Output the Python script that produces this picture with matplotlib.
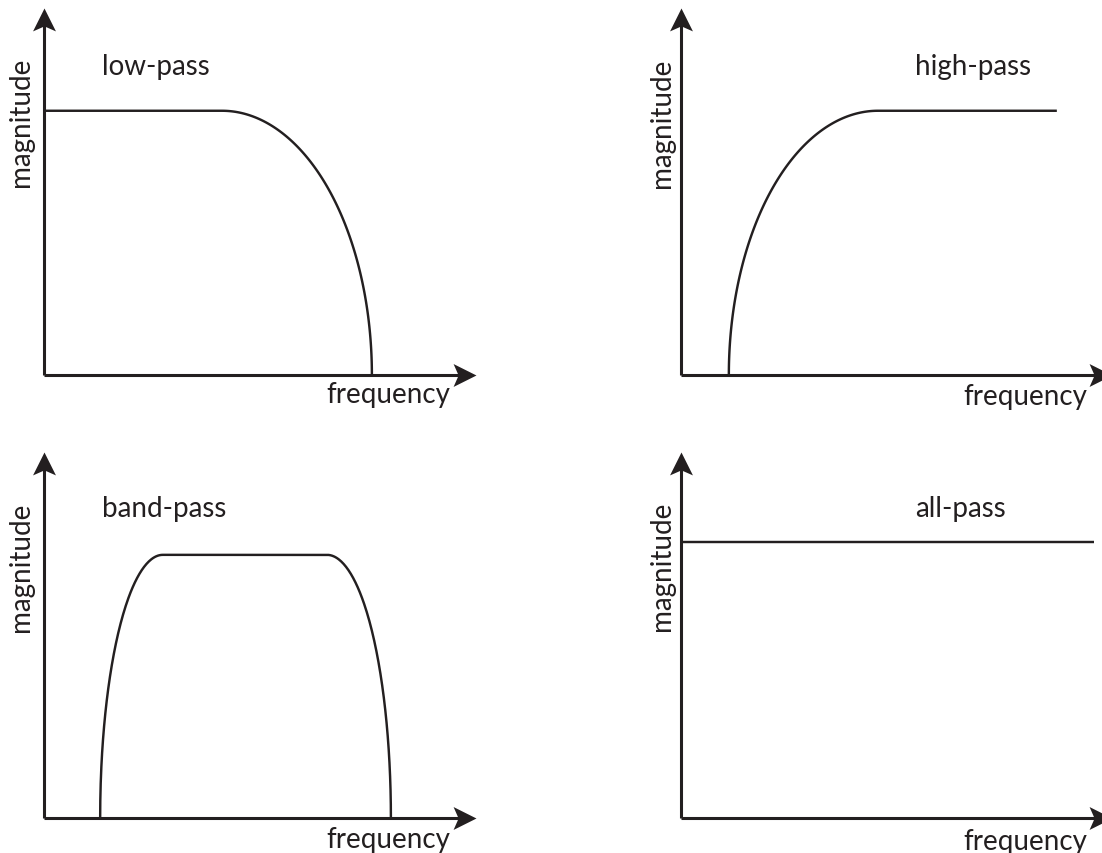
import numpy as np
import matplotlib
matplotlib.use("Agg")
import matplotlib.pyplot as plt
from matplotlib.path import Path

# ---------------- data (frequency / magnitude in arbitrary units, 0..10) -------------
titles = ["low-pass", "high-pass", "band-pass", "all-pass"]
x_label = "frequency"
y_label = "magnitude"

# break points: (frequency, magnitude); between points of different magnitude the
# response rolls off along a quarter-ellipse, equal magnitudes are joined straight
lowpass_freq = [0.0, 4.12, 7.59]
lowpass_mag = [7.2, 7.2, 0.0]

highpass_freq = [1.11, 4.57, 8.72]
highpass_mag = [0.0, 7.2, 7.2]

bandpass_freq = [1.30, 2.75, 6.55, 8.03]
bandpass_mag = [0.0, 7.19, 7.19, 0.0]

allpass_freq = [0.0, 9.58]
allpass_mag = [7.54, 7.54]

series = [(lowpass_freq, lowpass_mag), (highpass_freq, highpass_mag),
          (bandpass_freq, bandpass_mag), (allpass_freq, allpass_mag)]

# ---------------- style / layout ----------------
W, H = 1102, 854
INK = "#231f20"
FONT = "Lato"
FS = 20

fig = plt.figure(figsize=(W / 100, H / 100), dpi=100)
fig.patch.set_facecolor("white")

# panel geometry in pixels: origin x, origin y, x-arrow tip, y-arrow tip
panels = [(44, 376, 476, 9), (681, 376, 1112, 9),
          (44, 819, 476, 453), (681, 819, 1112, 453)]
title_pos = [(102, 75), (915, 75), (102, 517), (915, 517)]
xlab_pos = [(326, 403), (963, 405), (326, 848), (963, 850)]
ylab_pos = [(21, 122), (662, 123), (21, 567), (662, 566)]

# arrow head markers (tip at origin)
head_right = Path([(0, 0), (-1, 0.5), (-0.78, 0), (-1, -0.5), (0, 0)],
                  [Path.MOVETO, Path.LINETO, Path.LINETO, Path.LINETO, Path.CLOSEPOLY])
head_up = Path([(0, 0), (-0.5, -1), (0, -0.78), (0.5, -1), (0, 0)],
               [Path.MOVETO, Path.LINETO, Path.LINETO, Path.LINETO, Path.CLOSEPOLY])
HEAD_MS = 33


def curve(freq, mag):
    xs, ys = [freq[0]], [mag[0]]
    for i in range(1, len(freq)):
        f0, m0, f1, m1 = freq[i - 1], mag[i - 1], freq[i], mag[i]
        if m0 == m1:
            xs.append(f1)
            ys.append(m1)
            continue
        t = np.linspace(0, np.pi / 2, 120)
        if m1 < m0:   # falling: horizontal tangent at start, vertical at end
            xs.extend(f0 + (f1 - f0) * np.sin(t))
            ys.extend(m1 + (m0 - m1) * np.cos(t))
        else:         # rising: vertical tangent at start, horizontal at end
            xs.extend(f1 - (f1 - f0) * np.cos(t))
            ys.extend(m0 + (m1 - m0) * np.sin(t))
    return xs, ys


for k, (ox, oy, tx, ty) in enumerate(panels):
    ax = fig.add_axes([ox / W, (H - oy) / H, (tx - ox) / W, (oy - ty) / H])
    ax.set_xlim(0, 10)
    ax.set_ylim(0, 10)
    ax.set_axis_off()

    # axis lines with arrow heads
    ax.plot([0, 0.97], [0, 0], transform=ax.transAxes, color=INK, lw=2.2,
            solid_capstyle="butt", clip_on=False)
    ax.plot([0, 0], [0, 0.97], transform=ax.transAxes, color=INK, lw=2.2,
            solid_capstyle="butt", clip_on=False)
    ax.plot([1], [0], transform=ax.transAxes, marker=head_right, ms=HEAD_MS,
            mfc=INK, mew=0, color=INK, clip_on=False)
    ax.plot([0], [1], transform=ax.transAxes, marker=head_up, ms=HEAD_MS,
            mfc=INK, mew=0, color=INK, clip_on=False)

    f, m = series[k]
    xs, ys = curve(f, m)
    ax.plot(xs, ys, color=INK, lw=1.75, solid_capstyle="butt", clip_on=False)

    tx_, ty_ = title_pos[k]
    fig.text(tx_ / W, 1 - ty_ / H, titles[k], ha="left", va="baseline",
             fontsize=FS, family=FONT, color=INK)
    fx, fy = xlab_pos[k]
    fig.text(fx / W, 1 - fy / H, x_label, ha="left", va="baseline",
             fontsize=FS, family=FONT, color=INK)
    mx, my = ylab_pos[k]
    fig.text(mx / W, 1 - my / H, y_label, ha="center", va="center", rotation=90,
             fontsize=FS, family=FONT, color=INK)

fig.savefig("out.png", dpi=100, facecolor="white")
